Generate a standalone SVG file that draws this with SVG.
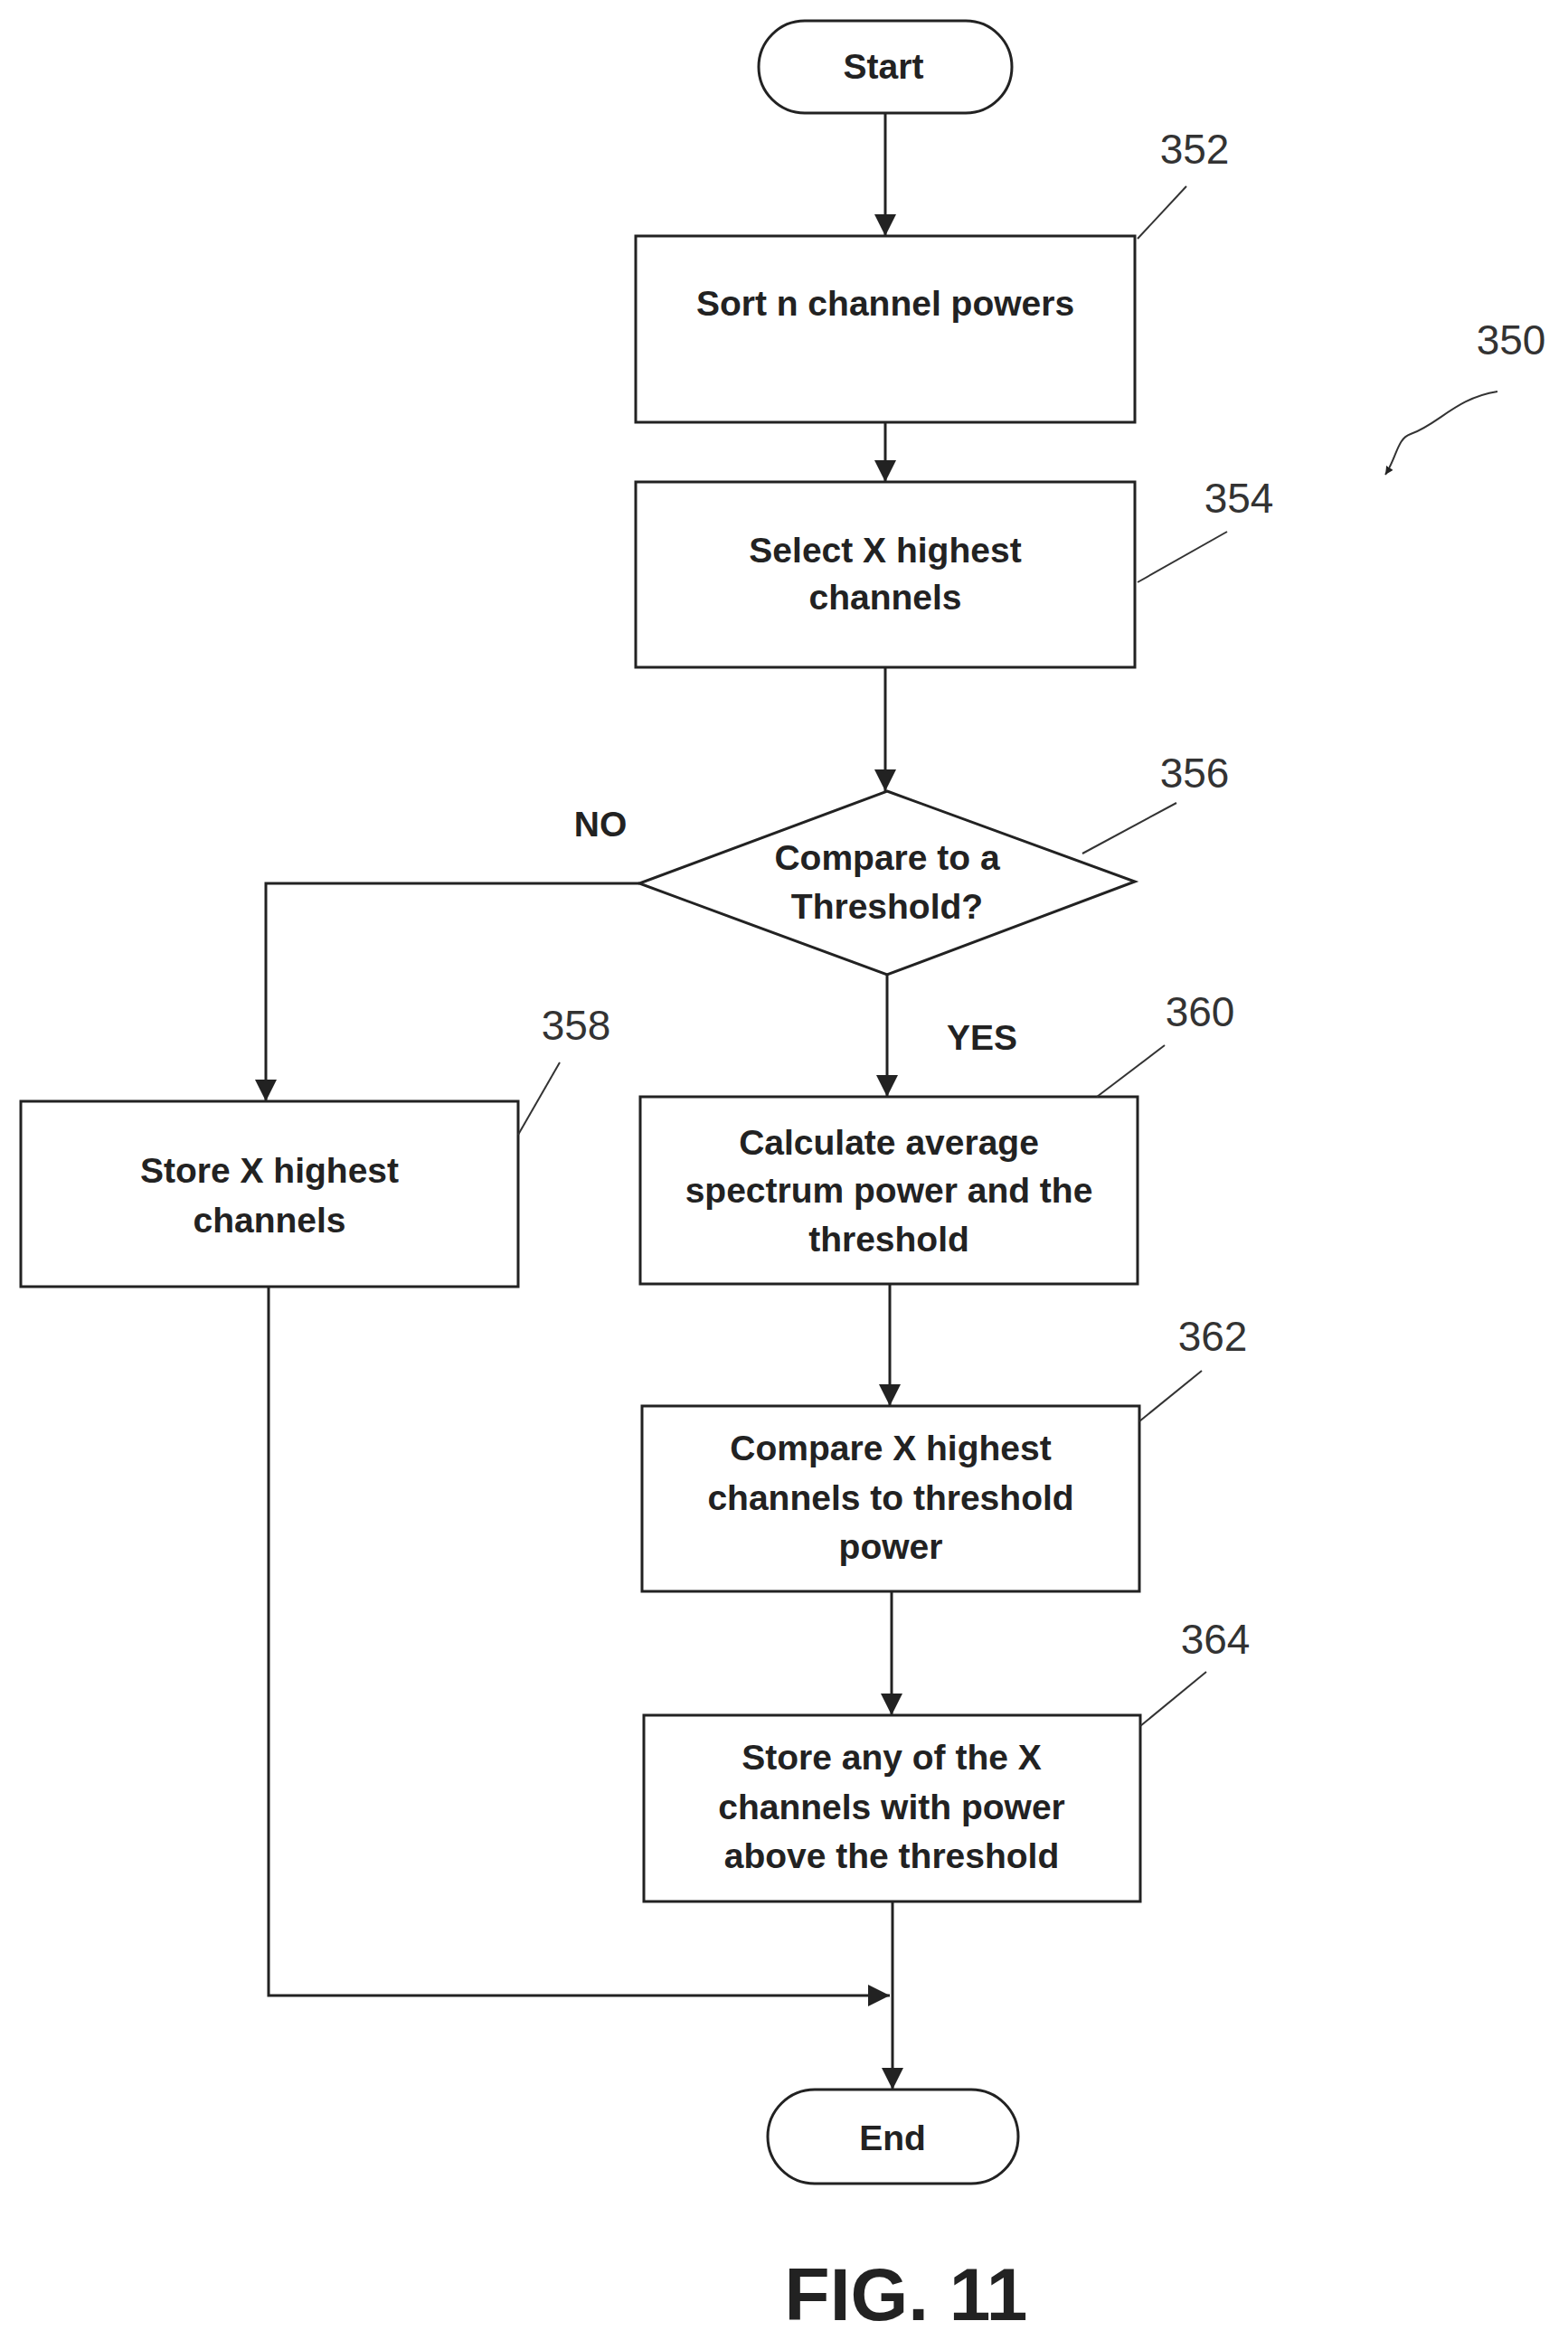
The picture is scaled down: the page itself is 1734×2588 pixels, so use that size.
<svg xmlns="http://www.w3.org/2000/svg" width="1734" height="2588" viewBox="0 0 1734 2588">
<style>
.s{fill:#fff;stroke:#222;stroke-width:3}
.t{font-family:"Liberation Sans",Arial,sans-serif;font-weight:bold;font-size:39px;fill:#222;text-anchor:middle}
.n{font-family:"Liberation Sans",Arial,sans-serif;font-size:46px;fill:#333;text-anchor:middle}
.c{fill:none;stroke:#222;stroke-width:3}
.l{fill:none;stroke:#333;stroke-width:2}
</style>
<defs><marker id="a" viewBox="0 0 10 10" refX="10" refY="5" markerWidth="9" markerHeight="9" markerUnits="userSpaceOnUse" orient="auto"><path d="M0,0L10,5L0,10z" fill="#222"/></marker>
<marker id="b" viewBox="0 0 10 10" refX="10" refY="5" markerWidth="28" markerHeight="24" markerUnits="userSpaceOnUse" orient="auto"><path d="M0,0L10,5L0,10z" fill="#222"/></marker></defs>
<g id="connectors">
<path class="c" d="M979,125V261" marker-end="url(#b)"/>
<path class="c" d="M979,467V533" marker-end="url(#b)"/>
<path class="c" d="M979,738V875" marker-end="url(#b)"/>
<path class="c" d="M707,977H294V1218" marker-end="url(#b)"/>
<path class="c" d="M981,1078V1213" marker-end="url(#b)"/>
<path class="c" d="M984,1420V1555" marker-end="url(#b)"/>
<path class="c" d="M986,1760V1897" marker-end="url(#b)"/>
<path class="c" d="M987,2103V2311" marker-end="url(#b)"/>
<path class="c" d="M297,1423V2207H984" marker-end="url(#b)"/>
<text class="t" x="664" y="925">NO</text>
<text class="t" x="1086" y="1161">YES</text>
</g>
<g id="start"><rect class="s" x="839" y="23" width="280" height="102" rx="51"/><text class="t" x="977" y="87">Start</text></g>
<g id="n352"><rect class="s" x="703" y="261" width="552" height="206"/><text class="t" x="979" y="349">Sort n channel powers</text>
<text class="n" x="1321" y="181">352</text><path class="l" d="M1258,264L1312,206"/></g>
<g id="n354"><rect class="s" x="703" y="533" width="552" height="205"/><text class="t" x="979" y="622">Select X highest</text><text class="t" x="979" y="674">channels</text>
<text class="n" x="1370" y="567">354</text><path class="l" d="M1258,644L1357,588"/></g>
<g id="n356"><path class="s" d="M981,875L1255,975L981,1078L707,977z"/><text class="t" x="981" y="962">Compare to a</text><text class="t" x="981" y="1016">Threshold?</text>
<text class="n" x="1321" y="871">356</text><path class="l" d="M1197,944L1301,888"/></g>
<g id="n358"><rect class="s" x="23" y="1218" width="550" height="205"/><text class="t" x="298" y="1308">Store X highest</text><text class="t" x="298" y="1363">channels</text>
<text class="n" x="637" y="1150">358</text><path class="l" d="M573,1255L619,1175"/></g>
<g id="n360"><rect class="s" x="708" y="1213" width="550" height="207"/><text class="t" x="983" y="1277">Calculate average</text><text class="t" x="983" y="1330">spectrum power and the</text><text class="t" x="983" y="1384">threshold</text>
<text class="n" x="1327" y="1135">360</text><path class="l" d="M1213,1213L1288,1156"/></g>
<g id="n362"><rect class="s" x="710" y="1555" width="550" height="205"/><text class="t" x="985" y="1615">Compare X highest</text><text class="t" x="985" y="1670">channels to threshold</text><text class="t" x="985" y="1724">power</text>
<text class="n" x="1341" y="1494">362</text><path class="l" d="M1260,1572L1329,1516"/></g>
<g id="n364"><rect class="s" x="712" y="1897" width="549" height="206"/><text class="t" x="986" y="1957">Store any of the X</text><text class="t" x="986" y="2012">channels with power</text><text class="t" x="986" y="2066">above the threshold</text>
<text class="n" x="1344" y="1829">364</text><path class="l" d="M1261,1909L1334,1849"/></g>
<g id="end"><rect class="s" x="849" y="2311" width="277" height="104" rx="52"/><text class="t" x="987" y="2378">End</text></g>
<g id="ref350"><text class="n" x="1671" y="392">350</text><path class="l" d="M1656,433C1610,440 1590,470 1560,480C1545,485 1545,505 1532,525" marker-end="url(#a)"/></g>
<text x="1002" y="2566" style="font-family:'Liberation Sans',Arial,sans-serif;font-weight:bold;font-size:82px;fill:#222;text-anchor:middle">FIG. 11</text>
</svg>
